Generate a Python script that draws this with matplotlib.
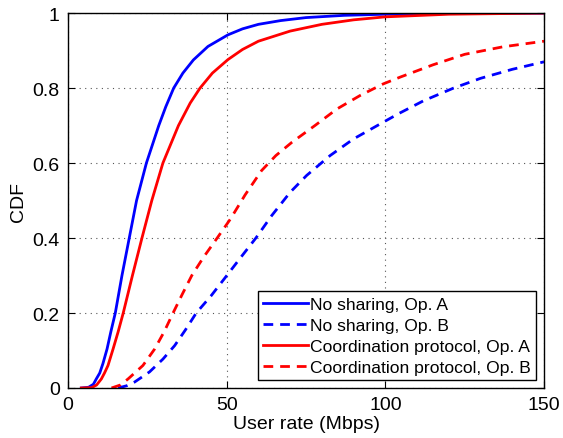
import matplotlib
matplotlib.use("Agg")
import matplotlib.pyplot as plt

plt.rcParams['font.family'] = ['Liberation Sans', 'DejaVu Sans']

# No sharing, Op. A
ns_a_x = [4.2, 6.5, 8.0, 8.9, 10.0, 11.0, 12.3, 13.5, 14.9, 17.0, 19.3, 21.6, 24.7, 28.6, 30.8, 33.3, 36.2,
          39.5, 44.1, 50.4, 55, 60, 67, 75, 87, 100, 120, 150]
ns_a_y = [0, 0.002, 0.01, 0.024, 0.04, 0.065, 0.104, 0.15, 0.2, 0.3, 0.4, 0.5, 0.6, 0.7, 0.75, 0.8, 0.84,
          0.875, 0.911, 0.942, 0.958, 0.97, 0.98, 0.988, 0.994, 0.997, 0.999, 1.0]

# No sharing, Op. B
ns_b_x = [15.8, 18.5, 21.0, 25.7, 29.9, 33.6, 37.0, 40.4, 45.0, 49.4, 54.5, 59.2, 64.2, 70.0, 75.2,
          82.6, 89.9, 98.3, 104, 112, 121.5, 130, 140, 150]
ns_b_y = [0, 0.006, 0.016, 0.043, 0.077, 0.113, 0.155, 0.2, 0.245, 0.293, 0.349, 0.4, 0.46, 0.522,
          0.567, 0.62, 0.664, 0.704, 0.731, 0.766, 0.8, 0.826, 0.85, 0.87]

# Coordination protocol, Op. A
cp_a_x = [4.2, 7.5, 9.0, 10.5, 11.5, 12.6, 14.2, 15.8, 17.4, 20.3, 23.3, 26.4, 29.9, 34.8, 38.5, 41.6,
          45.5, 50.4, 55, 60, 70, 80, 90, 100, 120, 150]
cp_a_y = [0, 0.001, 0.008, 0.024, 0.04, 0.06, 0.104, 0.15, 0.2, 0.3, 0.4, 0.5, 0.6, 0.7, 0.76, 0.8,
          0.84, 0.876, 0.903, 0.925, 0.952, 0.97, 0.982, 0.99, 0.997, 1.0]

# Coordination protocol, Op. B
cp_b_x = [13.7, 16.5, 18.9, 23.6, 27.3, 30.3, 33.1, 36.0, 39.0, 42.8, 47.0, 51.2, 55.8, 61.0, 65.5,
          70.5, 77.8, 84.7, 92.0, 99.3, 104.6, 115, 125, 137, 150]
cp_b_y = [0, 0.008, 0.024, 0.06, 0.104, 0.15, 0.2, 0.25, 0.3, 0.35, 0.4, 0.451, 0.515, 0.58, 0.62,
          0.655, 0.7, 0.744, 0.78, 0.811, 0.829, 0.862, 0.89, 0.91, 0.925]

fig = plt.figure(figsize=(5.63, 4.39), dpi=100)
ax = fig.add_axes([0.1208, 0.1139, 0.8455, 0.854])

lw = 2.0
ax.plot(ns_a_x, ns_a_y, color='#0000ff', lw=lw, label='No sharing, Op. A')
ax.plot(ns_b_x, ns_b_y, color='#0000ff', lw=lw, ls=(0, (3.5, 2.5)), label='No sharing, Op. B')
ax.plot(cp_a_x, cp_a_y, color='#ff0000', lw=lw, label='Coordination protocol, Op. A')
ax.plot(cp_b_x, cp_b_y, color='#ff0000', lw=lw, ls=(0, (3.5, 2.5)), label='Coordination protocol, Op. B')

ax.set_xlim(0, 150)
ax.set_ylim(0, 1)
ax.set_xticks([0, 50, 100, 150])
ax.set_yticks([0, 0.2, 0.4, 0.6, 0.8, 1])
ax.set_yticklabels(['0', '0.2', '0.4', '0.6', '0.8', '1'])
ax.grid(True, ls=(0, (1, 4)), color='#555555', lw=0.8)
ax.tick_params(direction='in', top=True, right=True, labelsize=14, length=5, pad=6)
for s in ax.spines.values():
    s.set_linewidth(1.0)

ax.set_xlabel('User rate (Mbps)', fontsize=14, labelpad=1)
ax.set_ylabel('CDF', fontsize=14, labelpad=4)

leg = ax.legend(loc='lower right', fontsize=12.6, fancybox=False, framealpha=1,
                edgecolor='black', borderaxespad=0.45, handlelength=2.6,
                handletextpad=0.1, labelspacing=0.33, borderpad=0.3)
leg.get_frame().set_linewidth(1.0)

fig.savefig('out.png', dpi=100)
